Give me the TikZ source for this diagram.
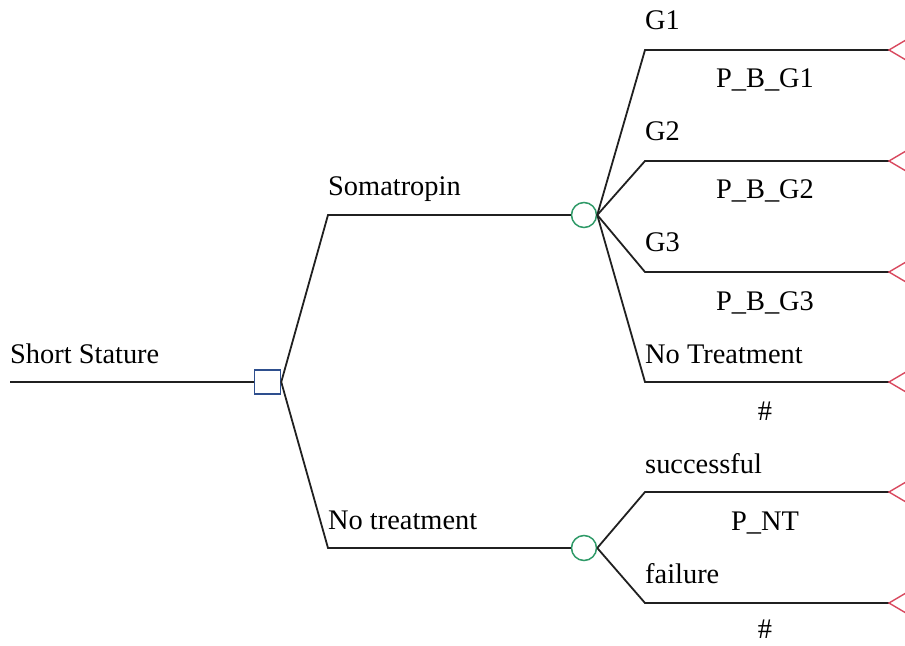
\documentclass[tikz,border=0pt]{standalone}
\usepackage{fontspec}
\setmainfont{Liberation Serif}
\newfontfamily\lblfont{Liberation Serif}
\definecolor{decblue}{HTML}{2E4F8E}
\definecolor{chgreen}{HTML}{2F9A68}
\definecolor{termred}{HTML}{D8485E}
\definecolor{linegray}{HTML}{202020}
\tikzset{
  edge/.style={draw=linegray, line width=1.8bp},
  decision/.style={draw=decblue, fill=white, line width=1.5bp, rectangle, minimum width=26bp, minimum height=24bp, inner sep=0pt},
  chance/.style={draw=chgreen, fill=white, line width=1.5bp, circle, minimum size=25bp, inner sep=0pt},
  term/.style={draw=termred, line width=1.4bp},
  lbl/.style={font=\lblfont\fontsize{28.5}{30}\selectfont, inner sep=0pt, text=black},
}
\begin{document}
\begin{tikzpicture}[x=1bp,y=-1bp]
\useasboundingbox (0,0) rectangle (905,646);
% coordinates
\coordinate (root) at (10,382);
\node[decision] (D) at (267.5,382) {};
\coordinate (s1) at (328,215);
\coordinate (s2) at (328,548);
\node[chance] (C1) at (584,215) {};
\node[chance] (C2) at (584,548) {};
\coordinate (g1) at (645,50);
\coordinate (g2) at (645,161);
\coordinate (g3) at (645,272);
\coordinate (g4) at (645,382);
\coordinate (n1) at (645,492);
\coordinate (n2) at (645,603);
\coordinate (t1) at (889,50);
\coordinate (t2) at (889,161);
\coordinate (t3) at (889,272);
\coordinate (t4) at (889,382);
\coordinate (t5) at (889,492);
\coordinate (t6) at (889,603);
% connectors
\draw[edge] (root) -- (D.west);
\draw[edge] (D.east) -- (s1) -- (C1.west);
\draw[edge] (D.east) -- (s2) -- (C2.west);
\foreach \i in {1,2,3,4} {\draw[edge] (C1.east) -- (g\i) -- (t\i);}
\draw[edge] (C2.east) -- (n1) -- (t5);
\draw[edge] (C2.east) -- (n2) -- (t6);
% terminals
\foreach \i in {1,...,6} {\draw[term] ([xshift=22bp,yshift=13bp]t\i) -- (t\i) -- ([xshift=22bp,yshift=-13bp]t\i);}
% labels
\node[lbl, anchor=base west] (lroot) at (10,363) {Short Stature};
\node[lbl, anchor=base west] (ls1) at (328,196) {Somatropin};
\node[lbl, anchor=base west] (ls2) at (328,529) {No treatment};
\node[lbl, anchor=base west] (lg1) at (645,30) {G1};
\node[lbl, anchor=base] (pg1) at (765,88) {P\_B\_G1};
\node[lbl, anchor=base west] (lg2) at (645,141) {G2};
\node[lbl, anchor=base] (pg2) at (765,199) {P\_B\_G2};
\node[lbl, anchor=base west] (lg3) at (645,252) {G3};
\node[lbl, anchor=base] (pg3) at (765,310) {P\_B\_G3};
\node[lbl, anchor=base west] (lg4) at (645,363) {No Treatment};
\node[lbl, anchor=base] (pg4) at (765,420) {\#};
\node[lbl, anchor=base west] (ln1) at (645,473) {successful};
\node[lbl, anchor=base] (pn1) at (765,530) {P\_NT};
\node[lbl, anchor=base west] (ln2) at (645,583) {failure};
\node[lbl, anchor=base] (pn2) at (765,638) {\#};
\end{tikzpicture}
\end{document}
